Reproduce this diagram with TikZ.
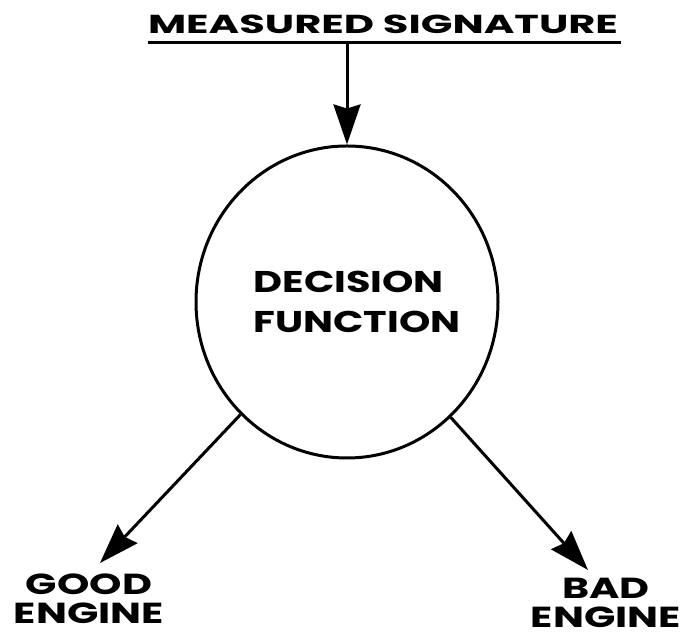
\documentclass[tikz,border=0pt]{standalone}
\usepackage{fontspec}
\setmainfont{Poppins}
\usetikzlibrary{arrows.meta,shapes.geometric}
\begin{document}
\begin{tikzpicture}[x=1pt,y=1pt,
  lbl/.style={font=\bfseries\fontsize{29}{29}\selectfont, align=center, inner sep=0pt, xscale=1.42, transform shape},
  conn/.style={line width=3pt, -{Stealth[length=40pt,width=27pt,inset=4pt]}},
  ring/.style={draw, ellipse, line width=3pt, minimum width=302pt, minimum height=312pt, inner sep=0pt}]
\useasboundingbox (0,0) rectangle (689,639);
\node[font=\bfseries\fontsize{26}{26}\selectfont, inner sep=0pt, xscale=1.6, transform shape] (title) at (383,615) {MEASURED SIGNATURE};
\coordinate (ulL) at (148,596);
\coordinate (ulR) at (621,596);
\draw[line width=3pt] (ulL) -- (ulR);
\coordinate (src) at (347,596);
\node[ring] (dec) at (347,337) {};
\node[font=\bfseries\fontsize{30}{40}\selectfont, align=left, inner sep=0pt, xscale=1.33, transform shape] (dectext) at (357,337) {DECISION\\FUNCTION};
\draw[conn] (src) -- (dec.north);
\coordinate (goodtip) at (100,76);
\coordinate (badtip) at (588,69);
\draw[conn] (dec) -- (goodtip);
\draw[conn] (dec) -- (badtip);
\node[lbl] (good) at (89,40) {GOOD\\ENGINE};
\node[lbl] (bad) at (606,36) {BAD\\ENGINE};
\end{tikzpicture}
\end{document}
